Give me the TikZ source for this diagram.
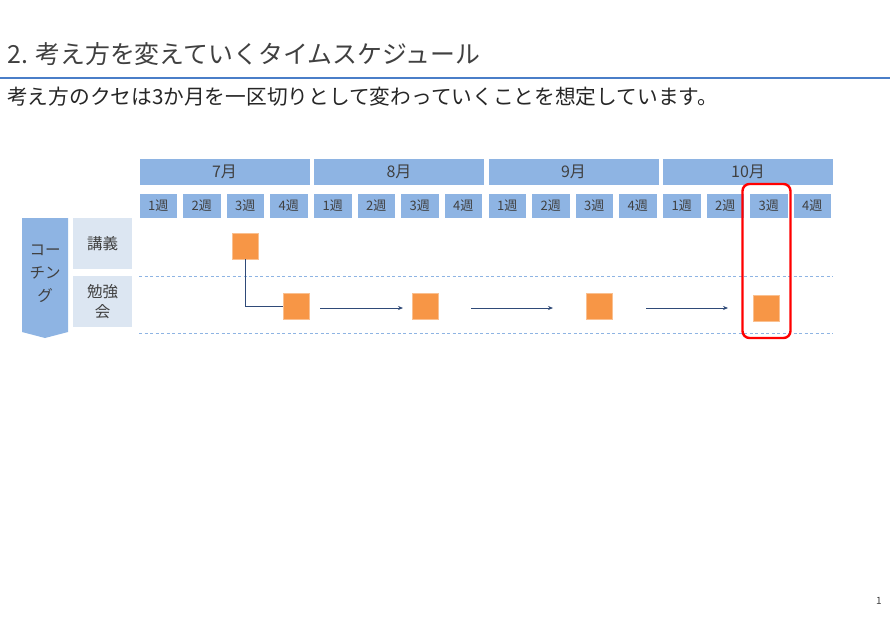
\documentclass[tikz,border=0pt]{standalone}
\usepackage{fontspec}
\setmainfont{Noto Sans CJK JP}
\usetikzlibrary{arrows.meta}
\definecolor{hdrblue}{HTML}{8EB4E3}
\definecolor{lightblue}{HTML}{DCE6F2}
\definecolor{txtgray}{HTML}{404040}
\definecolor{linebl}{HTML}{4A7EC8}
\definecolor{orangesq}{HTML}{F79646}
\definecolor{navy}{HTML}{2F4A78}
\tikzset{
  monthbox/.style={fill=hdrblue, draw=white, line width=0.5pt, minimum width=171, minimum height=27, inner sep=0pt, text=txtgray, font=\fontsize{16}{17}\selectfont},
  weekbox/.style={fill=hdrblue, draw=white, line width=0.5pt, minimum width=38.5, minimum height=25, inner sep=0pt, text=txtgray, font=\fontsize{13}{14}\selectfont},
  rowbox/.style={fill=lightblue, minimum width=59, minimum height=51, inner sep=0pt, text=txtgray, align=center, font=\fontsize{15.5}{19.5}\selectfont},
  sq/.style={fill=orangesq, draw=orangesq!60!white, line width=0.4pt, minimum size=26, inner sep=0pt},
  conn/.style={draw=navy, line width=0.7pt},
  arr/.style={draw=navy, line width=0.7pt, -{Stealth[length=5pt,width=4pt]}},
  sep/.style={draw=hdrblue, dashed, line width=0.8pt, dash pattern=on 3pt off 2.5pt},
}
\begin{document}
\begin{tikzpicture}[x=1pt,y=-1pt]
\useasboundingbox (0,0) rectangle (890,616);
% title
\node[anchor=west, inner sep=0pt, text=txtgray, font=\fontsize{24.9}{26}\selectfont] (title) at (7,54) {2. 考え方を変えていくタイムスケジュール};
\draw[linebl, line width=1.6pt] (0,78) -- (890,78);
\node[anchor=west, inner sep=0pt, text=black!85, font=\fontsize{20.7}{22}\selectfont] (sub) at (7,97) {考え方のクセは3か月を一区切りとして変わっていくことを想定しています。};
% months and weeks
\foreach \m/\lab [count=\i from 0] in {1/7月,2/8月,3/9月,4/10月}{
  \node[monthbox] (m\m) at ({139+\i*174.5+85.5},171.5) {\lab};
  \foreach \k in {1,2,3,4}{
    \node[weekbox] (w\m-\k) at ({139+\i*174.5+(\k-1)*43.5+19.25},205.5) {\k 週};
  }
}
% row labels
\draw[fill=hdrblue, draw=none] (22,218) -- (68,218) -- (68,332) -- (45,338) -- (22,332) -- cycle;
\node[align=center, text=txtgray, inner sep=0pt, font=\fontsize{15.5}{23}\selectfont] (coach) at (45,274) {コー\\チン\\グ};
\node[rowbox] (lec) at (102.5,243.5) {講義};
\node[rowbox] (study) at (102.5,301.5) {勉強\\会};
% dashed separators
\coordinate (d1s) at (139,276); \coordinate (d1e) at (833,276);
\coordinate (d2s) at (139,333); \coordinate (d2e) at (833,333);
\draw[sep] (d1s) -- (d1e);
\draw[sep] (d2s) -- (d2e);
% squares
\node[sq] (L) at (245,246) {};
\node[sq] (s1) at (296,306) {};
\node[sq] (s2) at (425.5,306) {};
\node[sq] (s3) at (599.5,306) {};
\node[sq] (s4) at (766,308) {};
% connectors
\draw[conn] (L.south) |- (s1.west);
\coordinate (a1s) at (320,308); \coordinate (a1e) at (403,308);
\coordinate (a2s) at (471,308); \coordinate (a2e) at (553,308);
\coordinate (a3s) at (646,308); \coordinate (a3e) at (728,308);
\draw[arr] (a1s) -- (a1e);
\draw[arr] (a2s) -- (a2e);
\draw[arr] (a3s) -- (a3e);
% highlight
\node[draw=red, line width=2.4pt, rounded corners=7pt, minimum width=48, minimum height=154, inner sep=0pt] (hl) at (766.5,261) {};
% page number
\node[text=txtgray, inner sep=0pt, font=\fontsize{10}{11}\selectfont] (pg) at (879,601) {1};
\end{tikzpicture}
\end{document}
